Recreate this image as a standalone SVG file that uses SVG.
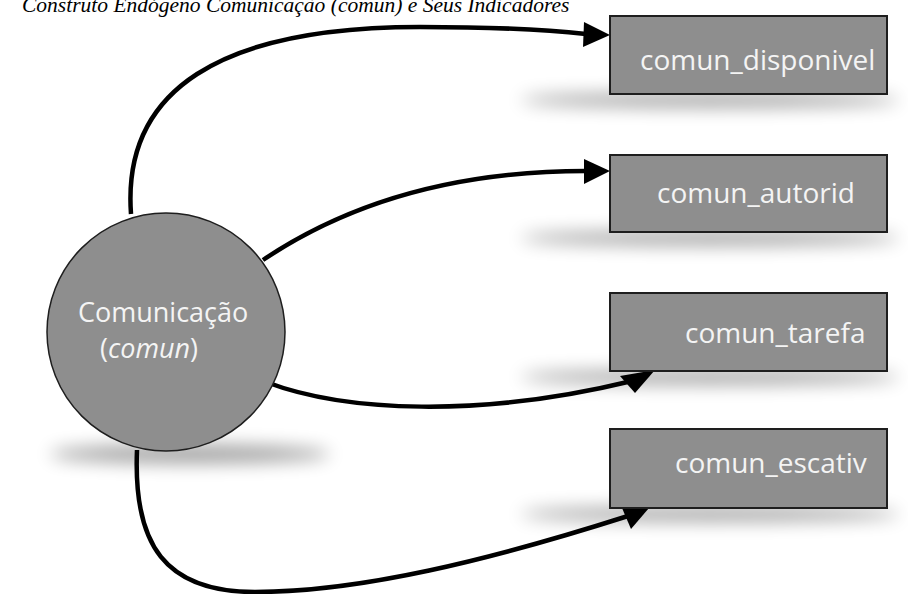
<svg xmlns="http://www.w3.org/2000/svg" width="908" height="594" viewBox="0 0 908 594">
  <defs>
    <filter id="soft" x="-50%" y="-200%" width="200%" height="500%">
      <feGaussianBlur stdDeviation="9"/>
    </filter>
    <style>
      .title { font-family: "Liberation Serif", "Times New Roman", serif; font-style: italic; font-size: 21.5px; fill: #000; }
      .box { fill: #8e8e8e; stroke: #1e1e1e; stroke-width: 2; }
      .circ { fill: #8e8e8e; stroke: #1e1e1e; stroke-width: 1.5; }
      .lbl { font-family: "Open Sans", "Liberation Sans", sans-serif; font-size: 28px; fill: #f4f4f4; }
      .clbl { font-family: "Open Sans", "Liberation Sans", sans-serif; font-size: 27px; fill: #f4f4f4; }
      .edge { fill: none; stroke: #000; stroke-width: 4.5; }
      .head { fill: #000; }
      .shadow { fill: #000; opacity: 0.38; filter: url(#soft); }
    </style>
  </defs>

  <rect width="908" height="594" fill="#ffffff"/>

  <text class="title" x="22" y="12">Construto Endógeno Comunicação (comun) e Seus Indicadores</text>

  <!-- drop shadows -->
  <g id="shadows">
    <ellipse class="shadow" cx="190" cy="454" rx="140" ry="9"/>
    <ellipse class="shadow" cx="710" cy="100" rx="190" ry="7"/>
    <ellipse class="shadow" cx="710" cy="238" rx="190" ry="7"/>
    <ellipse class="shadow" cx="710" cy="377" rx="190" ry="7"/>
    <ellipse class="shadow" cx="710" cy="514" rx="190" ry="7"/>
  </g>

  <!-- connectors -->
  <g id="edges">
    <path class="edge" d="M131,214 C122,90 220,27 420,27 C500,27 550,30 586,34"/>
    <polygon class="head" points="610,35 584,22 583,47"/>

    <path class="edge" d="M263,260 C330,215 430,171 586,171"/>
    <polygon class="head" points="610,171 584,159 584,184"/>

    <path class="edge" d="M266,382 C345,412 480,418 632,381"/>
    <polygon class="head" points="655,370 620,376 635,393"/>

    <path class="edge" d="M137,450 C133,545 165,592 255,592 C360,592 490,560 628,516"/>
    <polygon class="head" points="649,508 622,508 631,529"/>
  </g>

  <g id="comun">
    <circle class="circ" cx="166" cy="332" r="119"/>
    <text class="clbl" x="78" y="322">Comunicação</text>
    <text class="clbl" x="100" y="358">(<tspan font-style="italic">comun</tspan>)</text>
  </g>

  <g id="comun_disponivel">
    <rect class="box" x="610" y="16" width="277" height="78"/>
    <text class="lbl" x="640" y="70">comun_disponivel</text>
  </g>

  <g id="comun_autorid">
    <rect class="box" x="610" y="155" width="277" height="77"/>
    <text class="lbl" x="657" y="203">comun_autorid</text>
  </g>

  <g id="comun_tarefa">
    <rect class="box" x="610" y="293" width="277" height="78"/>
    <text class="lbl" x="685" y="343">comun_tarefa</text>
  </g>

  <g id="comun_escativ">
    <rect class="box" x="610" y="429" width="277" height="79"/>
    <text class="lbl" x="675" y="473">comun_escativ</text>
  </g>
</svg>
